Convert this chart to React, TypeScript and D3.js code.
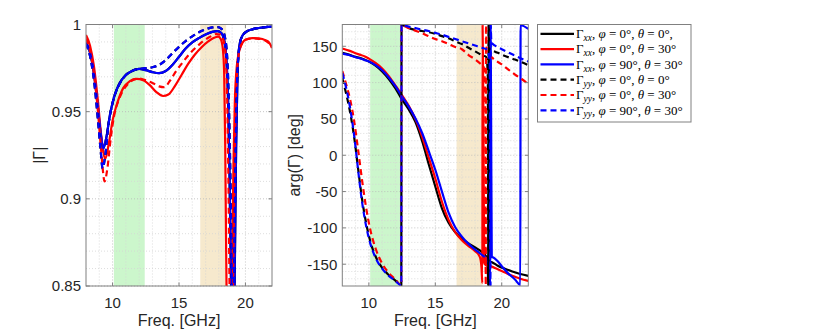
import React, { useRef, useEffect } from "react";
import { select, scaleLinear, line, curveMonotoneX, range } from "d3";

// frequency axis (GHz)
const freqDomain = [8, 22];
const freqTicks = [10, 15, 20];
const greenBand = [10.1, 12.42];
const tanBand = [16.6, 18.55];

// |Γ| axis
const magDomain = [0.85, 1];
const magTicks = [0.85, 0.9, 0.95, 1];
const magTickLabels = ["0.85", "0.9", "0.95", "1"];

// arg(Γ) axis
const argDomain = [-180, 180];
const argTicks = [-150, -100, -50, 0, 50, 100, 150];

// |Γ| curves, [freq, value]
const magXX_0_0 = [[8,0.990],[8.3,0.984],[8.6,0.972],[8.9,0.952],[9.1,0.938],[9.3,0.929],[9.5,0.934],[9.8,0.948],[10.1,0.958],[10.5,0.966],[11,0.971],[11.5,0.9735],[12,0.9745],[12.5,0.9738],[13,0.9727],[13.5,0.9721],[14,0.9733],[14.5,0.9768],[15,0.9815],[15.5,0.9862],[16,0.9897],[16.5,0.9922],[17,0.9943],[17.5,0.9958],[17.9,0.9962],[18.2,0.995],[18.4,0.991],[18.55,0.982],[18.7,0.955],[18.8,0.915],[18.9,0.86],[19.05,0.80],[19.2,0.86],[19.3,0.93],[19.4,0.97],[19.5,0.985],[19.7,0.9925],[20,0.9955],[20.5,0.9972],[21,0.998],[21.5,0.9985],[22,0.9988]];
const magXX_0_30 = [[8,0.994],[8.3,0.988],[8.6,0.976],[8.9,0.956],[9.15,0.936],[9.45,0.923],[9.7,0.931],[10,0.945],[10.4,0.956],[10.8,0.9635],[11.3,0.9675],[11.8,0.9688],[12.3,0.968],[12.8,0.9652],[13.3,0.9612],[13.8,0.959],[14.2,0.9598],[14.7,0.9648],[15.2,0.9712],[15.7,0.9775],[16.2,0.9828],[16.7,0.987],[17.2,0.9903],[17.6,0.9923],[17.95,0.9931],[18.15,0.9915],[18.3,0.986],[18.4,0.972],[18.48,0.93],[18.55,0.87],[18.7,0.80],[18.9,0.82],[19.0,0.86],[19.1,0.92],[19.2,0.955],[19.35,0.976],[19.6,0.9865],[20,0.9912],[20.5,0.9922],[21,0.992],[21.5,0.991],[21.8,0.9895],[22,0.9865]];
const magXX_90_30 = [[8,0.990],[8.3,0.984],[8.6,0.972],[8.9,0.952],[9.1,0.938],[9.3,0.929],[9.5,0.934],[9.8,0.948],[10.1,0.958],[10.5,0.966],[11,0.971],[11.5,0.9735],[12,0.9745],[12.5,0.9738],[13,0.9727],[13.5,0.9721],[14,0.9733],[14.5,0.9768],[15,0.9815],[15.5,0.9862],[16,0.9897],[16.5,0.9922],[17,0.9943],[17.5,0.9958],[17.9,0.9962],[18.2,0.995],[18.4,0.991],[18.55,0.982],[18.7,0.955],[18.8,0.915],[18.9,0.86],[19.05,0.80],[19.2,0.86],[19.3,0.93],[19.4,0.97],[19.5,0.985],[19.7,0.9925],[20,0.9955],[20.5,0.9972],[21,0.998],[21.5,0.9985],[22,0.9988]];
const magYY_0_0 = [[8,0.989],[8.3,0.982],[8.6,0.968],[8.9,0.945],[9.1,0.928],[9.25,0.9175],[9.45,0.925],[9.7,0.943],[10,0.955],[10.5,0.9655],[11,0.971],[11.5,0.9735],[12,0.9745],[12.5,0.975],[13,0.9755],[13.5,0.9768],[14,0.9795],[14.5,0.9835],[15,0.9872],[15.5,0.9905],[16,0.9932],[16.5,0.9955],[17,0.9972],[17.5,0.9983],[17.9,0.9985],[18.2,0.9975],[18.45,0.993],[18.65,0.978],[18.8,0.94],[18.95,0.87],[19.05,0.80],[19.15,0.86],[19.25,0.92],[19.35,0.962],[19.5,0.984],[19.7,0.9925],[20,0.9955],[20.5,0.9972],[21,0.998],[21.5,0.9985],[22,0.9988]];
const magYY_0_30 = [[8,0.992],[8.3,0.985],[8.6,0.972],[8.9,0.950],[9.15,0.927],[9.4,0.910],[9.6,0.917],[9.85,0.934],[10.1,0.947],[10.5,0.9575],[11,0.9645],[11.5,0.968],[12,0.969],[12.5,0.968],[13,0.9665],[13.5,0.9645],[13.9,0.964],[14.3,0.9675],[14.8,0.9735],[15.3,0.9785],[15.8,0.9832],[16.3,0.987],[16.8,0.9903],[17.3,0.9928],[17.8,0.9945],[18.1,0.9942],[18.3,0.992],[18.5,0.984],[18.62,0.96],[18.72,0.91],[18.82,0.84],[18.95,0.80],[19.05,0.84],[19.15,0.90],[19.25,0.95],[19.4,0.976],[19.6,0.9865],[20,0.9912],[20.5,0.992],[21,0.9918],[21.5,0.9908],[21.8,0.989],[22,0.987]];
const magYY_90_30 = [[8,0.989],[8.3,0.982],[8.6,0.968],[8.9,0.945],[9.1,0.928],[9.25,0.9175],[9.45,0.925],[9.7,0.943],[10,0.955],[10.5,0.9655],[11,0.971],[11.5,0.9735],[12,0.9745],[12.5,0.975],[13,0.9755],[13.5,0.9768],[14,0.9795],[14.5,0.9835],[15,0.9872],[15.5,0.9905],[16,0.9932],[16.5,0.9955],[17,0.9972],[17.5,0.9983],[17.9,0.9985],[18.2,0.9975],[18.45,0.993],[18.65,0.978],[18.8,0.94],[18.95,0.87],[19.05,0.80],[19.15,0.86],[19.25,0.92],[19.35,0.962],[19.5,0.984],[19.7,0.9925],[20,0.9955],[20.5,0.9972],[21,0.998],[21.5,0.9985],[22,0.9988]];

// arg(Γ) curves in degrees, [freq, value]
const argXX_0_0 = [[8,141],[8.5,138.5],[9,135.5],[9.3,134],[9.7,131.5],[10,129],[10.5,123.5],[11,115.5],[11.5,105],[12,92],[12.45,78],[13,63],[13.5,46],[14,20],[14.5,-12],[15,-43],[15.5,-73],[16,-93],[16.5,-106],[17,-115],[17.5,-121.5],[18,-127],[18.5,-133],[18.85,-140],[18.95,-158],[19.0,-179],[19.02,179],[19.06,40],[19.1,-146],[19.3,-147.5],[19.7,-152],[20.2,-156],[20.8,-160],[21.4,-163.5],[22,-166]];
const argXX_0_30 = [[8,147],[8.5,144],[9,140.5],[9.3,138.5],[9.7,136],[10,133],[10.5,127],[11,119.5],[11.5,109],[12,96],[12.45,84],[13,68],[13.5,50],[14,26],[14.5,-3],[15,-32],[15.5,-64],[16,-89],[16.5,-106],[17,-117],[17.5,-125],[18,-132],[18.35,-140],[18.48,-155],[18.54,-176],[18.56,179],[18.62,60],[18.68,-148],[18.8,-151],[19.2,-153],[19.7,-157],[20.2,-161],[20.8,-166],[21.4,-170],[22,-173]];
const argXX_90_30 = [[8,140],[8.5,138],[9,135],[9.3,133.5],[9.7,131],[10,129],[10.5,124],[11,117],[11.5,107],[12,95],[12.45,82],[13,67],[13.5,51],[14,31],[14.5,6],[15,-20],[15.5,-50],[16,-79],[16.5,-99],[17,-112],[17.5,-122],[18,-130],[18.5,-137],[18.95,-145],[19.08,-160],[19.14,-179],[19.16,179],[19.2,60],[19.25,-140],[19.4,-141],[19.7,-146],[20.1,-155],[20.5,-163],[21,-171],[21.4,-178.5],[21.42,179],[22,174]];
const argYY_0_0 = [[8,106],[8.3,84],[8.6,58],[8.9,24],[9.2,-20],[9.5,-62],[9.8,-94],[10.1,-118],[10.5,-139],[11,-155],[11.5,-165],[12,-172.5],[12.44,-179],[12.46,179.5],[13,175],[13.5,172.5],[14,171],[14.5,169.5],[15,167],[15.5,164],[16,161],[16.5,157],[17,153],[17.5,148],[18,143],[18.5,138],[18.85,135],[18.95,110],[19.0,-179],[19.02,179],[19.07,146],[19.3,144],[19.7,141],[20.2,137],[20.8,133],[21.4,129],[22,124]];
const argYY_0_30 = [[8,116],[8.3,97],[8.6,76],[8.9,46],[9.2,6],[9.5,-36],[9.8,-73],[10.1,-102],[10.5,-128],[11,-149],[11.5,-162],[12,-171],[12.44,-179],[12.46,179.5],[13,175],[13.5,171.5],[14,168],[14.5,164],[15,160],[15.5,157],[16,153],[16.5,149],[17,146],[17.5,138],[18,132],[18.4,126],[18.65,121],[18.75,90],[18.8,-179],[18.82,179],[18.87,140],[19.1,137],[19.5,131],[20,125],[20.5,118],[21,111],[21.5,105],[22,98]];
const argYY_90_30 = [[8,113],[8.3,92],[8.6,64],[8.9,26],[9.2,-22],[9.5,-66],[9.8,-98],[10.1,-121],[10.5,-141],[11,-156],[11.5,-166],[12,-173],[12.44,-179],[12.46,179.5],[13,177],[13.5,175],[14,173],[14.5,171],[15,168.5],[15.5,166],[16,163],[16.5,160],[17,157],[17.5,154],[18,151],[18.5,148],[18.95,145],[19.1,125],[19.15,-179],[19.17,179],[19.22,155],[19.5,151],[20,146],[20.5,141.5],[21,137],[21.5,133],[22,129]];

// legend / series styling, in plotting order
const seriesColors = ["#000000", "#ff0000", "#0000ff", "#000000", "#ff0000", "#0000ff"];
const seriesDashed = [false, false, false, true, true, true];
const legendSub = ["xx", "xx", "xx", "yy", "yy", "yy"];
const legendPhi = ["0", "0", "90", "0", "0", "90"];
const legendTheta = ["0", "30", "30", "0", "30", "30"];
const legendTail = [",", "", "", "", "", ""];

const magSeries = [magXX_0_0, magXX_0_30, magXX_90_30, magYY_0_0, magYY_0_30, magYY_90_30];
const argSeries = [argXX_0_0, argXX_0_30, argXX_90_30, argYY_0_0, argYY_0_30, argYY_90_30];

const sans = "'Liberation Sans', Arial, Helvetica, sans-serif";
const serif = "'Liberation Serif', 'Times New Roman', serif";
const textColor = "#262626";
const boxColor = "#808080";

const drawPanel = (svg, id, box, yDomain, yTicks, yTickText, yMinor, series, yLabel, yLabelX) => {
    const x = scaleLinear().domain(freqDomain).range([box.x0, box.x1]);
    const y = scaleLinear().domain(yDomain).range([box.y1, box.y0]);
    const w = box.x1 - box.x0;
    const h = box.y1 - box.y0;
    const g = svg.append("g");

    g.append("clipPath").attr("id", "clip-" + id)
        .append("rect").attr("x", box.x0).attr("y", box.y0).attr("width", w).attr("height", h);

    g.append("rect").attr("x", box.x0).attr("y", box.y0).attr("width", w).attr("height", h).attr("fill", "#fff");

    // highlighted bands
    g.append("rect").attr("x", x(greenBand[0])).attr("y", box.y0)
        .attr("width", x(greenBand[1]) - x(greenBand[0])).attr("height", h).attr("fill", "#ccf6cc");
    g.append("rect").attr("x", x(tanBand[0])).attr("y", box.y0)
        .attr("width", x(tanBand[1]) - x(tanBand[0])).attr("height", h).attr("fill", "#f6e9cd");

    // minor grid
    const xMinor = range(9, 22).filter(v => !freqTicks.includes(v));
    g.selectAll(".xminor").data(xMinor).enter().append("line")
        .attr("x1", d => x(d)).attr("x2", d => x(d)).attr("y1", box.y0).attr("y2", box.y1)
        .attr("stroke", "#d4d4d4").attr("stroke-width", 0.8).attr("stroke-dasharray", "1,2");
    g.selectAll(".yminor").data(yMinor).enter().append("line")
        .attr("x1", box.x0).attr("x2", box.x1).attr("y1", d => y(d)).attr("y2", d => y(d))
        .attr("stroke", "#d4d4d4").attr("stroke-width", 0.8).attr("stroke-dasharray", "1,2");
    // major grid
    g.selectAll(".xmajor").data(freqTicks).enter().append("line")
        .attr("x1", d => x(d)).attr("x2", d => x(d)).attr("y1", box.y0).attr("y2", box.y1)
        .attr("stroke", "#b8b8b8").attr("stroke-width", 0.8).attr("stroke-dasharray", "1,2");
    g.selectAll(".ymajor").data(yTicks).enter().append("line")
        .attr("x1", box.x0).attr("x2", box.x1).attr("y1", d => y(d)).attr("y2", d => y(d))
        .attr("stroke", "#b8b8b8").attr("stroke-width", 0.8).attr("stroke-dasharray", "1,2");

    // curves
    const path = line().x(d => x(d[0])).y(d => y(d[1])).curve(curveMonotoneX);
    const lines = g.append("g").attr("clip-path", `url(#clip-${id})`);
    series.forEach((s, i) => {
        lines.append("path").attr("d", path(s)).attr("fill", "none")
            .attr("stroke", seriesColors[i]).attr("stroke-width", 2.2)
            .attr("stroke-dasharray", seriesDashed[i] ? "6,4" : null);
    });

    // box + ticks
    g.append("rect").attr("x", box.x0).attr("y", box.y0).attr("width", w).attr("height", h)
        .attr("fill", "none").attr("stroke", boxColor).attr("stroke-width", 1);
    freqTicks.forEach(t => {
        g.append("line").attr("x1", x(t)).attr("x2", x(t)).attr("y1", box.y1).attr("y2", box.y1 - 3.5).attr("stroke", boxColor);
        g.append("line").attr("x1", x(t)).attr("x2", x(t)).attr("y1", box.y0).attr("y2", box.y0 + 3.5).attr("stroke", boxColor);
        g.append("text").attr("x", x(t)).attr("y", box.y1 + 21.5).attr("text-anchor", "middle")
            .attr("font-family", sans).attr("font-size", 15).attr("fill", textColor).text(t);
    });
    yTicks.forEach((t, i) => {
        g.append("line").attr("x1", box.x0).attr("x2", box.x0 + 3.5).attr("y1", y(t)).attr("y2", y(t)).attr("stroke", boxColor);
        g.append("line").attr("x1", box.x1).attr("x2", box.x1 - 3.5).attr("y1", y(t)).attr("y2", y(t)).attr("stroke", boxColor);
        g.append("text").attr("x", box.x0 - 5).attr("y", y(t) + 5.3).attr("text-anchor", "end")
            .attr("font-family", sans).attr("font-size", 15).attr("fill", textColor).text(yTickText[i]);
    });

    g.append("text").attr("x", (box.x0 + box.x1) / 2).attr("y", 326).attr("text-anchor", "middle")
        .attr("font-family", sans).attr("font-size", 16).attr("fill", textColor).text("Freq. [GHz]");
    g.append("text").attr("transform", `translate(${yLabelX},${(box.y0 + box.y1) / 2}) rotate(-90)`)
        .attr("text-anchor", "middle").attr("font-family", sans).attr("font-size", 16)
        .attr("fill", textColor).text(yLabel);
};

const drawLegend = (svg) => {
    const g = svg.append("g");
    g.append("rect").attr("x", 537.5).attr("y", 24.5).attr("width", 153.5).attr("height", 97.5)
        .attr("fill", "#fff").attr("stroke", boxColor).attr("stroke-width", 1);
    seriesColors.forEach((c, i) => {
        const yy = 33.8 + i * 15.3;
        g.append("line").attr("x1", 540.5).attr("x2", 574).attr("y1", yy).attr("y2", yy)
            .attr("stroke", c).attr("stroke-width", 2.2)
            .attr("stroke-dasharray", seriesDashed[i] ? "6,4" : null);
        const t = g.append("text").attr("x", 576).attr("y", yy + 4.3)
            .attr("font-family", serif).attr("font-size", 13).attr("fill", "#000");
        t.append("tspan").text("Γ");
        t.append("tspan").attr("font-style", "italic").attr("font-size", 9.5).attr("dy", 2.8).text(legendSub[i]);
        t.append("tspan").attr("dy", -2.8).text(", ");
        t.append("tspan").attr("font-style", "italic").text("φ");
        t.append("tspan").text(` = ${legendPhi[i]}°, `);
        t.append("tspan").attr("font-style", "italic").text("θ");
        t.append("tspan").text(` = ${legendTheta[i]}°${legendTail[i]}`);
    });
};

const App = () => {
    const svgRef = useRef(null);

    useEffect(() => {
        const svg = select(svgRef.current);
        svg.selectAll("*").remove();
        const magMinor = range(86, 100).filter(v => v % 5 !== 0).map(v => v / 100);
        const argMinor = range(-170, 180, 10).filter(v => v % 50 !== 0);
        drawPanel(svg, "mag", { x0: 86, x1: 272, y0: 24.5, y1: 286 }, magDomain, magTicks, magTickLabels,
            magMinor, magSeries, "|Γ|", 45);
        drawPanel(svg, "arg", { x0: 342.3, x1: 528.3, y0: 24.5, y1: 286 }, argDomain, argTicks,
            argTicks.map(String), argMinor, argSeries, "arg(Γ) [deg]", 299.5);
        drawLegend(svg);
    }, []);

    return (
        <svg ref={svgRef} width={830} height={332}
            style={{ position: "absolute", left: 0, top: 0, background: "#fff" }} />
    );
};

export default App;
